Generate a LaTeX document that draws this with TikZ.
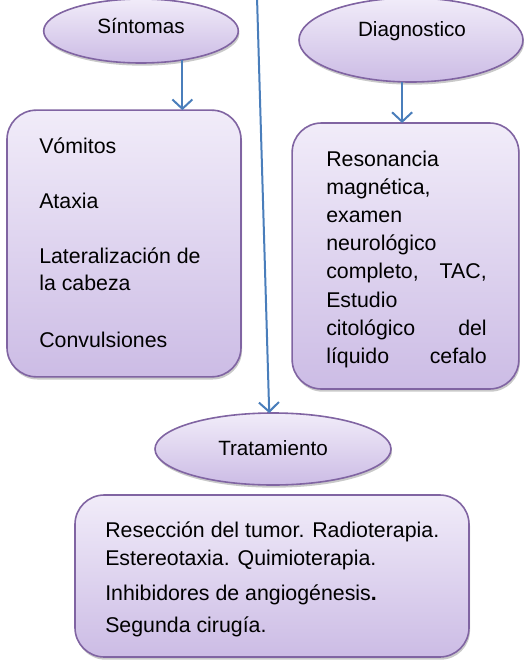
\documentclass[tikz,border=0pt]{standalone}
\usepackage{fontspec}
\setmainfont{Liberation Sans}
\usetikzlibrary{shapes.geometric,shadows,arrows.meta}
\definecolor{lavtop}{RGB}{241,236,249}
\definecolor{lavbot}{RGB}{204,188,229}
\definecolor{lavline}{RGB}{128,100,162}
\definecolor{arrblue}{RGB}{74,126,187}
\tikzset{
 shapebase/.style={draw=lavline, line width=1.2pt, top color=lavtop, bottom color=lavbot,
   drop shadow={shadow xshift=0.8pt, shadow yshift=-2pt, opacity=0.3, fill=black!70}, inner sep=0pt, outer sep=0pt},
 oval/.style={shapebase, ellipse},
 rbox/.style={shapebase, rectangle, rounded corners=22pt},
 lbl/.style={inner sep=0pt, anchor=base west, font=\fontsize{16}{19}\selectfont},
 rlbl/.style={inner sep=0pt, anchor=base east, font=\fontsize{16}{19}\selectfont},
 olbl/.style={inner sep=0pt, anchor=base, font=\fontsize{15.5}{18}\selectfont},
 arr/.style={draw=arrblue, line width=1.5pt, -{Straight Barb[length=7pt,width=15pt]}}
}
\begin{document}
\begin{tikzpicture}[x=0.75pt,y=-0.75pt]
\useasboundingbox (0,0) rectangle (528,661);
% shapes
\node[oval, minimum width=146pt, minimum height=48pt] (sint) at (141,31) {};
\node[oval, minimum width=168pt, minimum height=63pt] (diag) at (411,40) {};
\node[rbox, minimum width=175.5pt, minimum height=200pt] (sbox) at (124,243.5) {};
\node[rbox, minimum width=170pt, minimum height=199.5pt] (dbox) at (405.5,256) {};
\node[oval, minimum width=177pt, minimum height=54pt] (trat) at (273,449) {};
\node[rbox, minimum width=295.5pt, minimum height=121.5pt] (tbox) at (272,576) {};
% ellipse labels
\node[olbl] (sintT) at (141,33) {Síntomas};
\node[olbl] (diagT) at (412,36) {Diagnostico};
\node[olbl] (tratT) at (273,455) {Tratamiento};
% left box text
\node[lbl] (s1) at (39,153) {Vómitos};
\node[lbl] (s2) at (39,208) {Ataxia};
\node[lbl] (s3) at (39,263) {Lateralización de};
\node[lbl] (s4) at (39,290) {la cabeza};
\node[lbl] (s5) at (39,347) {Convulsiones};
% right box text
\node[lbl] (d1) at (326,166) {Resonancia};
\node[lbl] (d2) at (326,194) {magnética,};
\node[lbl] (d3) at (326,222) {examen};
\node[lbl] (d4) at (326,250.5) {neurológico};
\node[lbl] (d5a) at (326,278.5) {completo,};
\node[rlbl] (d5b) at (487,278.5) {TAC,};
\node[lbl] (d6) at (326,307) {Estudio};
\node[lbl] (d7a) at (326,335) {citológico};
\node[rlbl] (d7b) at (487,335) {del};
\node[lbl] (d8a) at (326,363) {líquido};
\node[rlbl] (d8b) at (487,363) {cefalo};
% bottom box text
\node[lbl] (t1) at (105,537) {Resección del tumor. Radioterapia.};
\node[lbl] (t2) at (105,565) {Estereotaxia. Quimioterapia.};
\node[lbl] (t3) at (105,600) {Inhibidores de angiogénesis\textbf{.}};
\node[lbl] (t4) at (105,632) {Segunda cirugía.};
% connectors
\coordinate (top) at (257,-3);
\draw[arr] (sint.-35) -- (sint.-35 |- sbox.north);
\draw[arr] (diag.-102) -- (diag.-102 |- dbox.north);
\draw[arr] (top) -- (trat.96);
\end{tikzpicture}
\end{document}
